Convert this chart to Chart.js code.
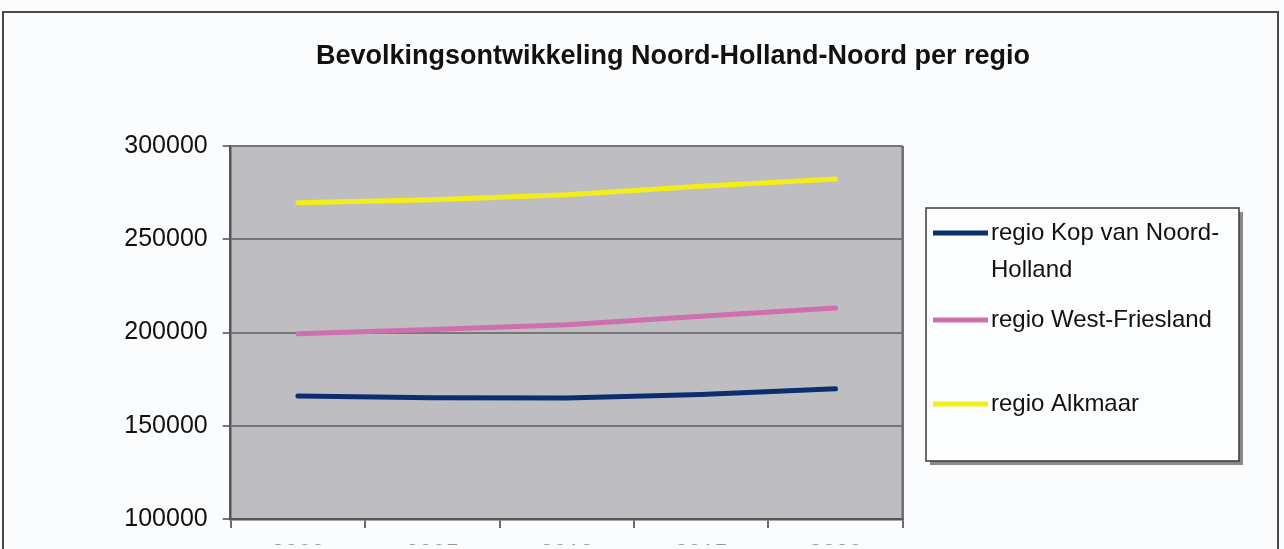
<!DOCTYPE html>
<html>
<head>
<meta charset="utf-8">
<script src="https://cdn.jsdelivr.net/npm/chart.js@4/dist/chart.umd.min.js"></script>
<style>
  html, body { margin: 0; padding: 0; background: #fbfcfe; overflow: hidden; }
  #wrap { position: relative; width: 1284px; height: 549px; }
  #frame { position: absolute; left: 2px; top: 11px; width: 1277px; height: 600px;
           border: 2px solid #4a4a4a; box-sizing: border-box; pointer-events: none; }
</style>
</head>
<body>
<div id="wrap">
  <canvas id="bevChart"></canvas>
  <div id="frame"></div>
</div>
<script>
// Bevolkingsontwikkeling per regio
const chartTitle = 'Bevolkingsontwikkeling Noord-Holland-Noord per regio';
const categories = ['2000', '2005', '2010', '2015', '2020'];
const seriesNames = ['regio Kop van Noord-Holland', 'regio West-Friesland', 'regio Alkmaar'];
const legendLines = [['regio Kop van Noord-', 'Holland'], ['regio West-Friesland'], ['regio Alkmaar']];
const kopValues = [166000, 165000, 164900, 166800, 169800];
const westFrieslandValues = [199300, 201600, 204200, 208700, 213100];
const alkmaarValues = [269600, 271200, 273900, 278400, 282300];
const yTicks = [100000, 150000, 200000, 250000, 300000];

const seriesColors = ['#0b2f6e', '#cf6fae', '#f3ee18'];

document.addEventListener('DOMContentLoaded', function() {
    const ctx = document.getElementById('bevChart');

    // plot background + extra borders, title and legend box
    const excelLook = {
        id: 'excelLook',
        beforeDraw(chart) {
            const a = chart.chartArea;
            const c = chart.ctx;
            c.save();
            c.fillStyle = '#bebec2';
            c.fillRect(a.left, a.top, a.right - a.left, a.bottom - a.top);
            c.restore();
        },
        afterDraw(chart) {
            const a = chart.chartArea;
            const c = chart.ctx;
            c.save();
            // right border of plot area
            c.strokeStyle = '#6e6e6e';
            c.lineWidth = 2.5;
            c.beginPath();
            c.moveTo(a.right, a.top);
            c.lineTo(a.right, a.bottom);
            c.stroke();

            // title
            c.fillStyle = '#111';
            c.font = 'bold 27px "Liberation Sans", Arial, sans-serif';
            c.textAlign = 'center';
            c.textBaseline = 'middle';
            c.fillText(chartTitle, 673, 57);

            // legend box
            const bx = 926, by = 208, bw = 313, bh = 253;
            c.fillStyle = '#8a8a8a';
            c.fillRect(bx + 4, by + 4, bw, bh);
            c.fillStyle = '#fcfdfe';
            c.fillRect(bx, by, bw, bh);
            c.strokeStyle = '#3a3a3a';
            c.lineWidth = 1.5;
            c.strokeRect(bx, by, bw, bh);

            const rows = [233, 320, 404];
            c.font = '24px "Liberation Sans", Arial, sans-serif';
            c.textAlign = 'left';
            chart.data.datasets.forEach((ds, i) => {
                const y = rows[i];
                c.strokeStyle = ds.borderColor;
                c.lineWidth = 5;
                c.beginPath();
                c.moveTo(933, y);
                c.lineTo(988, y);
                c.stroke();
                c.fillStyle = '#111';
                legendLines[i].forEach((txt, j) => {
                    c.fillText(txt, 991, y + j * 37);
                });
            });
            c.restore();
        }
    };

    new Chart(ctx, {
        type: 'line',
        data: {
            labels: categories,
            datasets: [
                { label: seriesNames[0], data: kopValues, borderColor: seriesColors[0] },
                { label: seriesNames[1], data: westFrieslandValues, borderColor: seriesColors[1] },
                { label: seriesNames[2], data: alkmaarValues, borderColor: seriesColors[2] }
            ].map(d => Object.assign(d, {
                borderWidth: 5,
                pointRadius: 0,
                tension: 0,
                fill: false,
                borderCapStyle: 'round'
            }))
        },
        options: {
            responsive: true,
            maintainAspectRatio: false,
            animation: false,
            layout: {
                padding: { top: 146, right: 381.3, bottom: 0, left: 0 }
            },
            plugins: {
                legend: { display: false },
                title: { display: false },
                tooltip: { enabled: false }
            },
            scales: {
                x: {
                    offset: true,
                    grid: {
                        offset: true,
                        drawOnChartArea: false,
                        drawTicks: true,
                        tickLength: 9,
                        color: '#6a6a6a',
                        lineWidth: 2
                    },
                    border: { display: true, color: '#555', width: 2.5 },
                    ticks: {
                        color: '#777',
                        padding: 12,
                        maxRotation: 0,
                        font: { family: '"Liberation Sans", Arial, sans-serif', size: 24 }
                    },
                    afterFit: function(scale) { scale.height = 25.7; }
                },
                y: {
                    min: 100000,
                    max: 300000,
                    afterBuildTicks: function(scale) {
                        scale.ticks = yTicks.map(v => ({ value: v }));
                    },
                    grid: {
                        color: '#777',
                        lineWidth: 2,
                        drawTicks: true,
                        tickLength: 8
                    },
                    border: { display: true, color: '#555', width: 2.5 },
                    ticks: {
                        color: '#111',
                        padding: 15,
                        font: { family: '"Liberation Sans", Arial, sans-serif', size: 25 },
                        callback: function(value) { return String(value); }
                    },
                    afterFit: function(scale) { scale.width = 230.7; }
                }
            }
        },
        plugins: [excelLook]
    });
});
</script>
</body>
</html>
